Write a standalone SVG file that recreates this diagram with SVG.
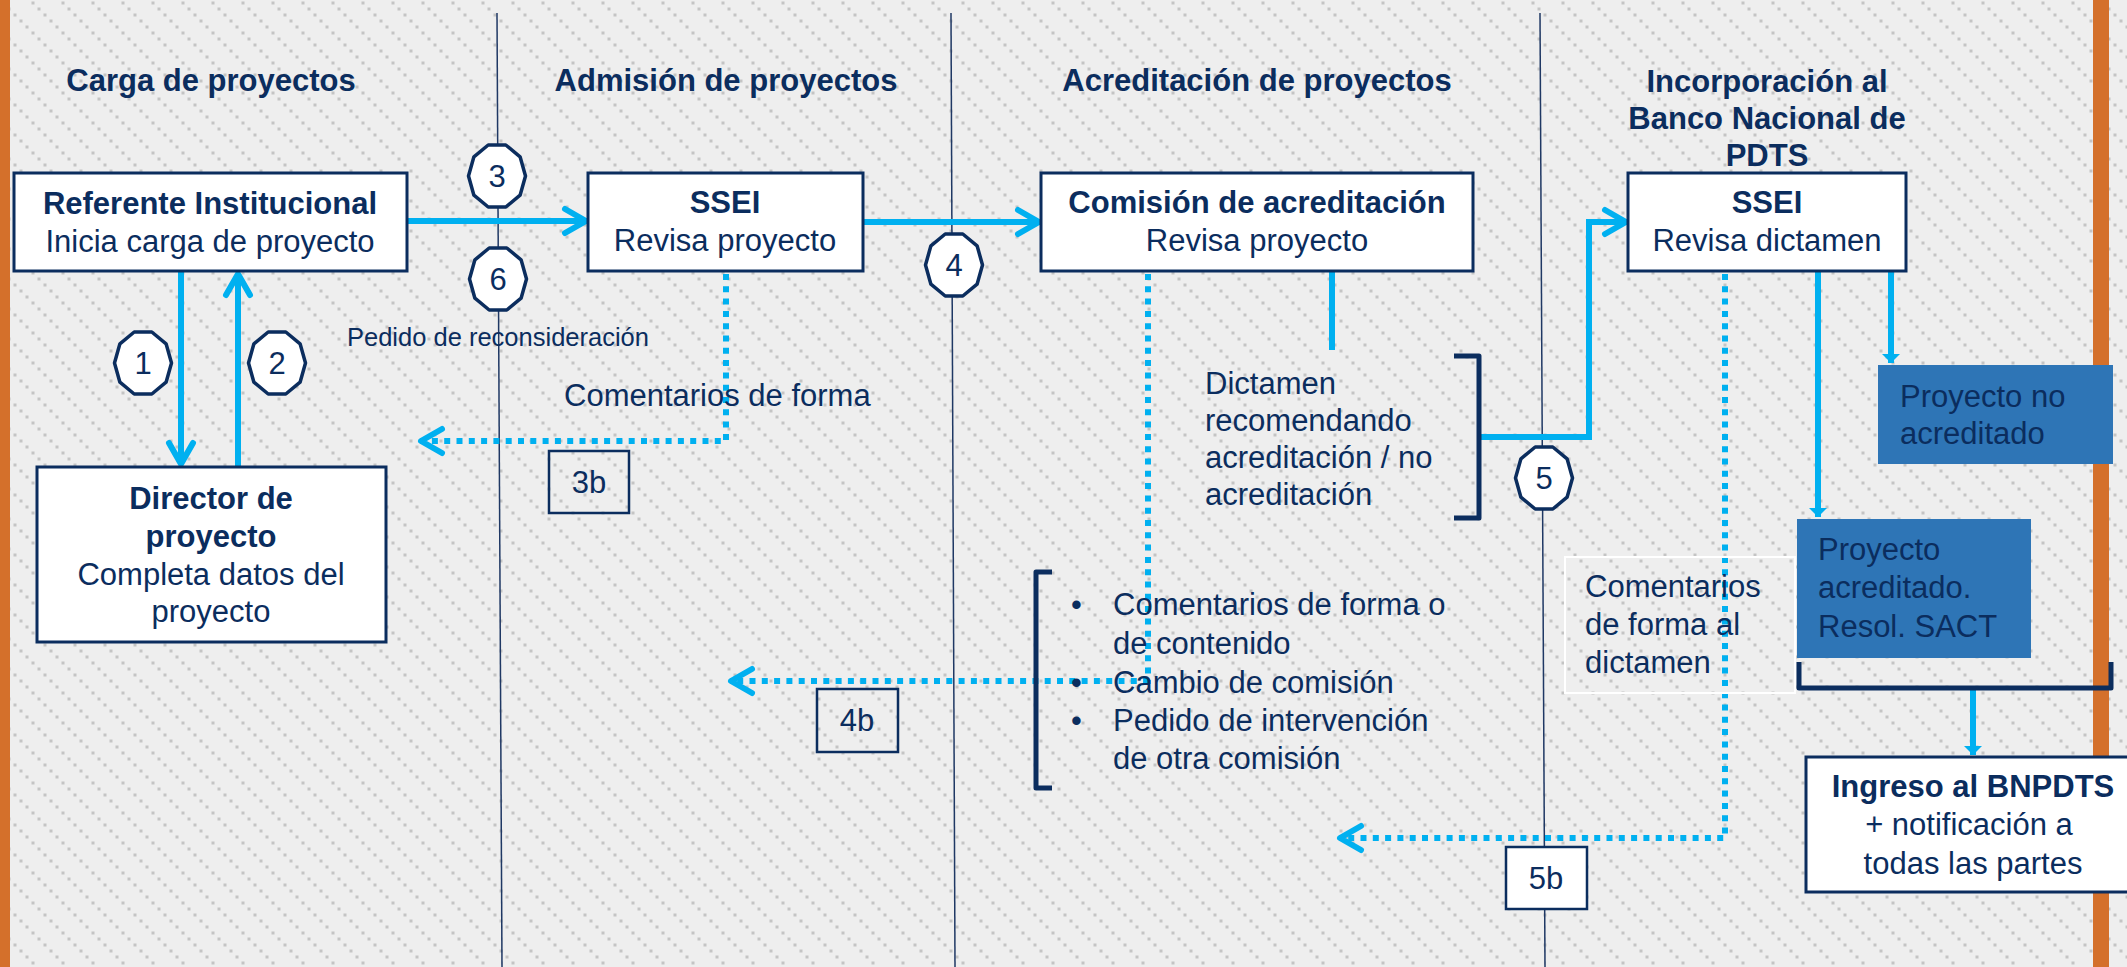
<svg xmlns="http://www.w3.org/2000/svg" width="2127" height="967" viewBox="0 0 2127 967">
<defs>
<pattern id="bg" width="30" height="30" patternUnits="userSpaceOnUse">
<rect width="30" height="30" fill="#eeeeee"/>
<rect x="1.5" y="1.5" width="3" height="3" fill="#c4c4c4"/>
<rect x="7.5" y="7.5" width="3" height="3" fill="#c4c4c4"/>
<rect x="13.5" y="13.5" width="3" height="3" fill="#c4c4c4"/>
<rect x="19.5" y="19.5" width="3" height="3" fill="#c4c4c4"/>
<rect x="25.5" y="25.5" width="3" height="3" fill="#c4c4c4"/>
</pattern>
<marker id="chev" markerUnits="userSpaceOnUse" markerWidth="40" markerHeight="40" viewBox="-30 -20 40 40" refX="0" refY="0" orient="auto">
<path d="M-22,-12 L-1,0 L-22,12" fill="none" stroke="#00b0f0" stroke-width="6" stroke-linecap="round" stroke-linejoin="round"/>
</marker>
<marker id="tri" markerUnits="userSpaceOnUse" markerWidth="30" markerHeight="30" viewBox="-15 -15 30 30" refX="0" refY="0" orient="auto">
<path d="M-9,-9 L0,0 L-9,9 Z" fill="#00b0f0"/>
</marker>
<polygon id="oct" points="-8.8,-31 8.8,-31 23.1,-19.2 28.5,0 23.1,19.2 8.8,31 -8.8,31 -23.1,19.2 -28.5,0 -23.1,-19.2"/>
<style>
.t{font-family:"Liberation Sans",Arial,sans-serif;font-size:31px;fill:#0b2d5e}
.b{font-weight:bold}
.c{text-anchor:middle}
.box{fill:#ffffff;stroke:#0b2d5e;stroke-width:3}
.lbl{fill:none;stroke:#0b2d5e;stroke-width:2.5}
.blue{fill:#2e75b6}
.lane{stroke:#1f3864;stroke-width:1.5;fill:none}
.sol{stroke:#00b0f0;stroke-width:6;fill:none}
.dot{stroke:#00b0f0;stroke-width:6;fill:none;stroke-dasharray:6 6.3}
.brk{stroke:#0b2d5e;stroke-width:5;fill:none;stroke-linejoin:round}
.num{fill:#ffffff;stroke:#0b2d5e;stroke-width:3.5;stroke-linejoin:round}
</style>
</defs>
<rect width="2127" height="967" fill="url(#bg)"/>
<g id="lanes">
<line class="lane" x1="497" y1="13" x2="502" y2="967"/>
<line class="lane" x1="951" y1="13" x2="955" y2="967"/>
<line class="lane" x1="1540" y1="13" x2="1545" y2="967"/>
</g>
<g id="edges">
<rect x="0" y="0" width="10" height="967" fill="#d4702b"/>
<rect x="2093" y="0" width="16" height="967" fill="#d4702b"/>
</g>
<g id="headers">
<text class="t b c" x="211" y="91">Carga de proyectos</text>
<text class="t b c" x="726" y="91">Admisión de proyectos</text>
<text class="t b c" x="1257" y="91">Acreditación de proyectos</text>
<text class="t b c" x="1767" y="92">Incorporación al</text>
<text class="t b c" x="1767" y="129">Banco Nacional de</text>
<text class="t b c" x="1767" y="166">PDTS</text>
</g>
<g id="connectors">
<line class="sol" x1="181" y1="271" x2="181" y2="465" marker-end="url(#chev)"/>
<line class="sol" x1="238" y1="467" x2="238" y2="273" marker-end="url(#chev)"/>
<line class="sol" x1="407" y1="221" x2="587" y2="221" marker-end="url(#chev)"/>
<line class="sol" x1="863" y1="222" x2="1040" y2="222" marker-end="url(#chev)"/>
<path class="sol" d="M1479,437 H1589 V222 H1627" marker-end="url(#chev)"/>
<line class="sol" x1="1332" y1="271" x2="1332" y2="350"/>
<path class="dot" d="M726,274 V441 H420" marker-end="url(#chev)"/>
<path class="dot" d="M1148,274 V681 H730" marker-end="url(#chev)"/>
<path class="dot" d="M1725,274 V838 H1339" marker-end="url(#chev)"/>
<line class="sol" x1="1818" y1="271" x2="1818" y2="517" marker-end="url(#tri)"/>
<line class="sol" x1="1891" y1="271" x2="1891" y2="363" marker-end="url(#tri)"/>
<line class="sol" x1="1973" y1="690" x2="1973" y2="755" marker-end="url(#tri)"/>
<path class="brk" d="M1454,356 H1479 V518 H1454"/>
<path class="brk" d="M1052,572 H1036 V788 H1052"/>
<path class="brk" d="M1799,662 V688 H2111 V662"/>
</g>
<g id="steps">
<use href="#oct" class="num" x="497" y="176"/>
<text class="t c" x="497" y="187">3</text>
<use href="#oct" class="num" x="498" y="279"/>
<text class="t c" x="498" y="290">6</text>
<use href="#oct" class="num" x="143" y="363"/>
<text class="t c" x="143" y="374">1</text>
<use href="#oct" class="num" x="277" y="363"/>
<text class="t c" x="277" y="374">2</text>
<use href="#oct" class="num" x="954" y="265"/>
<text class="t c" x="954" y="276">4</text>
<use href="#oct" class="num" x="1544" y="478"/>
<text class="t c" x="1544" y="489">5</text>
</g>
<g id="n-referente">
<rect class="box" x="14" y="173" width="393" height="98"/>
<text class="t b c" x="210" y="214">Referente Institucional</text>
<text class="t c" x="210" y="252">Inicia carga de proyecto</text>
</g>
<g id="n-director">
<rect class="box" x="37" y="467" width="349" height="175"/>
<text class="t b c" x="211" y="509">Director de</text>
<text class="t b c" x="211" y="547">proyecto</text>
<text class="t c" x="211" y="585">Completa datos del</text>
<text class="t c" x="211" y="622">proyecto</text>
</g>
<g id="n-ssei1">
<rect class="box" x="588" y="173" width="275" height="98"/>
<text class="t b c" x="725" y="213">SSEI</text>
<text class="t c" x="725" y="251">Revisa proyecto</text>
</g>
<g id="n-comision">
<rect class="box" x="1041" y="173" width="432" height="98"/>
<text class="t b c" x="1257" y="213">Comisión de acreditación</text>
<text class="t c" x="1257" y="251">Revisa proyecto</text>
</g>
<g id="n-ssei2">
<rect class="box" x="1628" y="173" width="278" height="98"/>
<text class="t b c" x="1767" y="213">SSEI</text>
<text class="t c" x="1767" y="251">Revisa dictamen</text>
</g>
<g id="l-reconsideracion">
<text class="t" x="347" y="346" style="font-size:25.5px">Pedido de reconsideración</text>
</g>
<g id="l-3b">
<text class="t" x="564" y="406">Comentarios de forma</text>
<rect class="lbl" x="549" y="451" width="80" height="62"/>
<text class="t c" x="589" y="493">3b</text>
</g>
<g id="l-dictamen">
<text class="t" x="1205" y="394">Dictamen</text>
<text class="t" x="1205" y="431">recomendando</text>
<text class="t" x="1205" y="468">acreditación / no</text>
<text class="t" x="1205" y="505">acreditación</text>
</g>
<g id="l-4b">
<text class="t" x="1071" y="615">•</text>
<text class="t" x="1113" y="615">Comentarios de forma o</text>
<text class="t" x="1113" y="654">de contenido</text>
<text class="t" x="1071" y="693">•</text>
<text class="t" x="1113" y="693">Cambio de comisión</text>
<text class="t" x="1071" y="731">•</text>
<text class="t" x="1113" y="731">Pedido de intervención</text>
<text class="t" x="1113" y="769">de otra comisión</text>
<rect class="lbl" x="817" y="689" width="81" height="63"/>
<text class="t c" x="857" y="731">4b</text>
</g>
<g id="l-5b">
<rect x="1565" y="557" width="230" height="136" fill="none" stroke="#ffffff" stroke-width="2"/>
<text class="t" x="1585" y="597">Comentarios</text>
<text class="t" x="1585" y="635">de forma al</text>
<text class="t" x="1585" y="673">dictamen</text>
<rect class="lbl" x="1506" y="847" width="81" height="62" style="fill:#ffffff"/>
<text class="t c" x="1546" y="889">5b</text>
</g>
<g id="n-noacreditado">
<rect class="blue" x="1878" y="365" width="235" height="99"/>
<text class="t" x="1900" y="407">Proyecto no</text>
<text class="t" x="1900" y="444">acreditado</text>
</g>
<g id="n-acreditado">
<rect class="blue" x="1797" y="519" width="234" height="139"/>
<text class="t" x="1818" y="560">Proyecto</text>
<text class="t" x="1818" y="598">acreditado.</text>
<text class="t" x="1818" y="637">Resol. SACT</text>
</g>
<g id="n-ingreso">
<rect class="box" x="1806" y="757" width="340" height="135"/>
<text class="t b c" x="1973" y="797">Ingreso al BNPDTS</text>
<text class="t c" x="1969" y="835">+ notificación a</text>
<text class="t c" x="1973" y="874">todas las partes</text>
</g>
</svg>
